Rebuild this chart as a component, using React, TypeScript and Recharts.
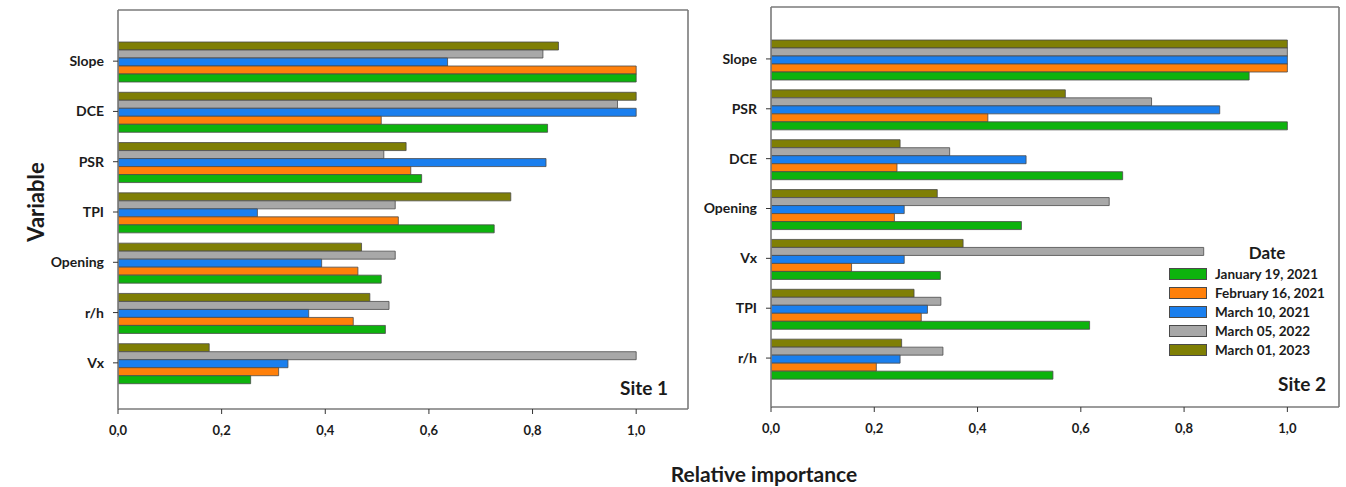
import React from 'react';
import { BarChart, Bar, XAxis, YAxis } from 'recharts';

// ---- Data ----
const dateLabels = ['January 19, 2021', 'February 16, 2021', 'March 10, 2021', 'March 05, 2022', 'March 01, 2023'];
const dateKeys = ['jan2021', 'feb2021', 'mar2021', 'mar2022', 'mar2023'];
const dateColors = ['#0DB30D', '#FF800A', '#1A7FEE', '#A8A8A8', '#7F7F05'];

const site1Categories = ['Slope', 'DCE', 'PSR', 'TPI', 'Opening', 'r/h', 'Vx'];
const site1Jan2021 = [1.0, 0.829, 0.586, 0.726, 0.508, 0.516, 0.256];
const site1Feb2021 = [1.0, 0.508, 0.565, 0.541, 0.463, 0.454, 0.31];
const site1Mar2021 = [0.636, 1.0, 0.826, 0.269, 0.393, 0.368, 0.328];
const site1Mar2022 = [0.82, 0.964, 0.513, 0.535, 0.535, 0.523, 1.0];
const site1Mar2023 = [0.85, 1.0, 0.556, 0.758, 0.47, 0.486, 0.176];

const site2Categories = ['Slope', 'PSR', 'DCE', 'Opening', 'Vx', 'TPI', 'r/h'];
const site2Jan2021 = [0.926, 1.0, 0.681, 0.485, 0.328, 0.617, 0.546];
const site2Feb2021 = [1.0, 0.42, 0.244, 0.239, 0.156, 0.291, 0.204];
const site2Mar2021 = [1.0, 0.869, 0.494, 0.258, 0.258, 0.303, 0.25];
const site2Mar2022 = [1.0, 0.737, 0.346, 0.655, 0.838, 0.329, 0.333];
const site2Mar2023 = [1.0, 0.57, 0.25, 0.322, 0.372, 0.277, 0.253];

const xTicks = [0, 0.2, 0.4, 0.6, 0.8, 1.0];

const buildRows = (cats: string[], series: number[][]) =>
  cats.map((name, i) => {
    const row: Record<string, any> = { name };
    dateKeys.forEach((k, j) => {
      row[k] = series[j][i];
    });
    return row;
  });

const site1Rows = buildRows(site1Categories, [site1Jan2021, site1Feb2021, site1Mar2021, site1Mar2022, site1Mar2023]);
const site2Rows = buildRows(site2Categories, [site2Jan2021, site2Feb2021, site2Mar2021, site2Mar2022, site2Mar2023]);

// ---- Styles ----
const FONT = 'Lato, "Open Sans", sans-serif';
const TEXT = '#1b1b1b';
const FRAME = '#7a7a7a';
const drawOrder = [4, 3, 2, 1, 0]; // top-to-bottom within each group

const fmt = (v: number) => v.toFixed(1).replace('.', ',');

type PanelProps = {
  rows: any[];
  width: number;
  height: number;
  margin: { top: number; right: number; bottom: number; left: number };
  yWidth: number;
  padTop: number;
  padBottom: number;
};

const Panel = ({ rows, width, height, margin, yWidth, padTop, padBottom }: PanelProps) => (
  <BarChart
    width={width}
    height={height}
    data={rows}
    layout="vertical"
    margin={margin}
    barCategoryGap={6}
    barGap={0}
  >
    <XAxis
      type="number"
      domain={[0, 1.1]}
      ticks={xTicks}
      tickFormatter={fmt}
      axisLine={{ stroke: FRAME, strokeWidth: 1.6 }}
      tickLine={{ stroke: '#333' }}
      tickSize={5}
      tickMargin={12}
      height={30}
      tick={{ fill: TEXT, fontSize: 13, fontWeight: 700, fontFamily: FONT }}
      allowDataOverflow
    />
    <XAxis
      xAxisId="frameTop"
      orientation="top"
      type="number"
      domain={[0, 1.1]}
      ticks={[0, 1.1]}
      height={1}
      tick={false}
      tickLine={false}
      axisLine={{ stroke: FRAME, strokeWidth: 1.6 }}
    />
    <YAxis
      type="category"
      dataKey="name"
      width={yWidth}
      padding={{ top: padTop, bottom: padBottom }}
      axisLine={{ stroke: FRAME, strokeWidth: 1.6 }}
      tickLine={{ stroke: '#333' }}
      tickSize={5}
      tickMargin={9}
      tick={{ fill: TEXT, fontSize: 14, fontWeight: 700, fontFamily: FONT }}
    />
    <YAxis
      yAxisId="frameRight"
      orientation="right"
      type="number"
      domain={[0, 1]}
      ticks={[0, 1]}
      width={1}
      tick={false}
      tickLine={false}
      axisLine={{ stroke: FRAME, strokeWidth: 1.6 }}
    />
    {drawOrder.map((j) => (
      <Bar
        key={dateKeys[j]}
        dataKey={dateKeys[j]}
        name={dateLabels[j]}
        fill={dateColors[j]}
        stroke="#4a4a4a"
        strokeWidth={0.8}
        isAnimationActive={false}
      />
    ))}
  </BarChart>
);

export default function App() {
  return (
    <div
      style={{
        position: 'absolute',
        left: 0,
        top: 0,
        width: 1346,
        height: 487,
        background: '#fff',
        fontFamily: FONT,
        color: TEXT,
        overflow: 'hidden',
      }}
    >
      <div style={{ position: 'absolute', left: 0, top: 0 }}>
        <Panel
          rows={site1Rows}
          width={700}
          height={487}
          margin={{ top: 9, right: 11, bottom: 48, left: 18 }}
          yWidth={100}
          padTop={26}
          padBottom={21}
        />
      </div>
      <div style={{ position: 'absolute', left: 680, top: 0 }}>
        <Panel
          rows={site2Rows}
          width={666}
          height={487}
          margin={{ top: 6, right: 6, bottom: 50, left: 11 }}
          yWidth={80}
          padTop={27}
          padBottom={24}
        />
      </div>

      {/* Axis titles */}
      <div
        style={{
          position: 'absolute',
          left: 35,
          top: 202,
          transform: 'translate(-50%, -50%) rotate(-90deg)',
          fontSize: 22,
          fontWeight: 700,
          whiteSpace: 'nowrap',
        }}
      >
        Variable
      </div>
      <div
        style={{
          position: 'absolute',
          left: 764,
          top: 473,
          transform: 'translate(-50%, -50%)',
          fontSize: 21,
          fontWeight: 700,
          whiteSpace: 'nowrap',
        }}
      >
        Relative importance
      </div>

      {/* Site labels */}
      <div
        style={{
          position: 'absolute',
          right: 1346 - 668,
          top: 387,
          transform: 'translateY(-50%)',
          fontSize: 19,
          fontWeight: 700,
        }}
      >
        Site 1
      </div>
      <div
        style={{
          position: 'absolute',
          right: 1346 - 1326,
          top: 383,
          transform: 'translateY(-50%)',
          fontSize: 19,
          fontWeight: 700,
        }}
      >
        Site 2
      </div>

      {/* Legend */}
      <div
        style={{
          position: 'absolute',
          left: 1267,
          top: 252,
          transform: 'translate(-50%, -50%)',
          fontSize: 17,
          fontWeight: 700,
        }}
      >
        Date
      </div>
      {dateLabels.map((label, i) => (
        <div
          key={label}
          style={{
            position: 'absolute',
            left: 1169,
            top: 274 + i * 19,
            transform: 'translateY(-50%)',
            display: 'flex',
            alignItems: 'center',
            whiteSpace: 'nowrap',
          }}
        >
          <div
            style={{
              width: 36,
              height: 10,
              background: dateColors[i],
              border: '1px solid #4a4a4a',
              marginRight: 8,
            }}
          />
          <span style={{ fontSize: 13.5, fontWeight: 700 }}>{label}</span>
        </div>
      ))}
    </div>
  );
}
